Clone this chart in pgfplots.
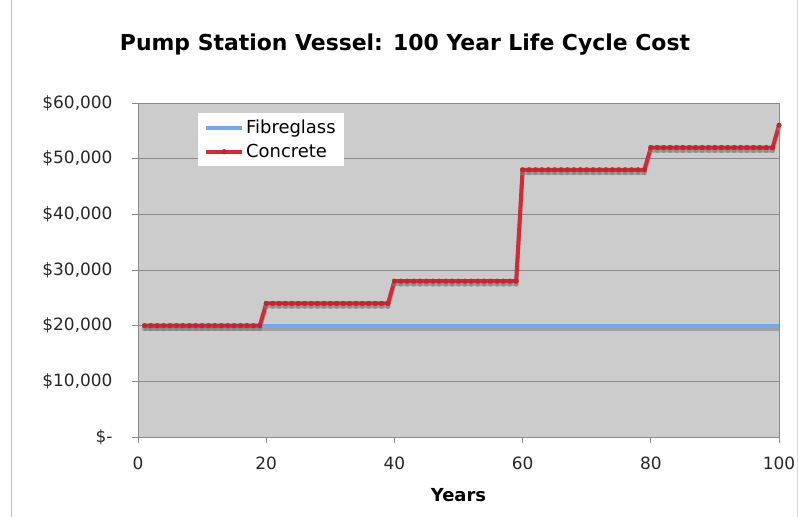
\documentclass[border=0pt]{standalone}
\usepackage{pgfplots}
\usepackage{pgfplotstable}
\pgfplotsset{compat=1.18}
\usepackage{fontspec}
\setmainfont{DejaVu Sans}
\definecolor{plotbg}{HTML}{CCCCCC}
\definecolor{fibre}{HTML}{74A8EE}
\definecolor{conc}{HTML}{D42A35}
\definecolor{gridc}{HTML}{8A8A8A}
\pgfplotstableread{
year fibre concrete
1 20000 20000
2 20000 20000
3 20000 20000
4 20000 20000
5 20000 20000
6 20000 20000
7 20000 20000
8 20000 20000
9 20000 20000
10 20000 20000
11 20000 20000
12 20000 20000
13 20000 20000
14 20000 20000
15 20000 20000
16 20000 20000
17 20000 20000
18 20000 20000
19 20000 20000
20 20000 24000
21 20000 24000
22 20000 24000
23 20000 24000
24 20000 24000
25 20000 24000
26 20000 24000
27 20000 24000
28 20000 24000
29 20000 24000
30 20000 24000
31 20000 24000
32 20000 24000
33 20000 24000
34 20000 24000
35 20000 24000
36 20000 24000
37 20000 24000
38 20000 24000
39 20000 24000
40 20000 28000
41 20000 28000
42 20000 28000
43 20000 28000
44 20000 28000
45 20000 28000
46 20000 28000
47 20000 28000
48 20000 28000
49 20000 28000
50 20000 28000
51 20000 28000
52 20000 28000
53 20000 28000
54 20000 28000
55 20000 28000
56 20000 28000
57 20000 28000
58 20000 28000
59 20000 28000
60 20000 48000
61 20000 48000
62 20000 48000
63 20000 48000
64 20000 48000
65 20000 48000
66 20000 48000
67 20000 48000
68 20000 48000
69 20000 48000
70 20000 48000
71 20000 48000
72 20000 48000
73 20000 48000
74 20000 48000
75 20000 48000
76 20000 48000
77 20000 48000
78 20000 48000
79 20000 48000
80 20000 52000
81 20000 52000
82 20000 52000
83 20000 52000
84 20000 52000
85 20000 52000
86 20000 52000
87 20000 52000
88 20000 52000
89 20000 52000
90 20000 52000
91 20000 52000
92 20000 52000
93 20000 52000
94 20000 52000
95 20000 52000
96 20000 52000
97 20000 52000
98 20000 52000
99 20000 52000
100 20000 56000
}\datatable
\begin{document}
\begin{tikzpicture}
\path[use as bounding box] (0bp,0bp) rectangle (799bp,517bp);
\draw[black!25, line width=1bp] (11bp,0bp) -- (11bp,517bp);
\draw[black!15, line width=1bp] (797bp,0bp) -- (797bp,517bp);
\node[font=\fontsize{22}{26}\selectfont\bfseries] at (405bp,472bp) {Pump Station Vessel: 100 Year Life Cycle Cost};
\begin{axis}[
  at={(138bp,80bp)}, anchor=south west,
  scale only axis, width=641bp, height=334bp,
  xmin=0, xmax=100, ymin=0, ymax=60000,
  scaled y ticks=false,
  xtick={0,20,...,100},
  ytick={0,10000,...,60000},
  yticklabels={{\$-},{\$10,000},{\$20,000},{\$30,000},{\$40,000},{\$50,000},{\$60,000}},
  xticklabels={0,20,40,60,80,100},
  axis background/.style={fill=plotbg},
  axis line style={gridc, line width=1bp},
  ymajorgrids, major grid style={gridc, line width=0.8bp},
  tick style={gridc, line width=0.8bp},
  tick align=outside, major tick length=6bp,
  xtick pos=bottom, ytick pos=left,
  ticklabel style={font=\fontsize{17}{20}\selectfont, text=black!85},
  yticklabel style={xshift=-16bp},
  xticklabel style={yshift=-10bp},
  xlabel={\bfseries Years},
  xlabel style={font=\fontsize{18}{21}\selectfont, yshift=-12bp},
  legend style={at={(60/641,1-10/334)}, anchor=north west, draw=none, fill=white,
    font=\fontsize{18}{21}\selectfont, inner xsep=6bp, inner ysep=5bp, row sep=5bp,
    nodes={inner sep=2bp}},
  legend cell align=left,
  legend image code/.code={
    \draw[#1, mark repeat=2, mark phase=2] plot coordinates {(0bp,0bp) (18bp,0bp) (36bp,0bp)};},
]
\addplot[black!50, opacity=0.55, line width=4bp, yshift=-3bp, forget plot] table[x=year,y=fibre]{\datatable};
\addplot[black!50, opacity=0.55, line width=4bp, yshift=-3bp, mark=*, mark size=2.2bp, mark options={line width=0.5bp}, forget plot] table[x=year,y=concrete]{\datatable};
\addplot[fibre, line width=3.5bp] table[x=year,y=fibre]{\datatable};
\addlegendentry{Fibreglass}
\addplot[conc, line width=4bp, mark=*, mark size=2.3bp, mark options={fill=conc!90!black, draw=conc!90!black, line width=0.5bp}] table[x=year,y=concrete]{\datatable};
\addlegendentry{Concrete}
\end{axis}
\end{tikzpicture}
\end{document}
